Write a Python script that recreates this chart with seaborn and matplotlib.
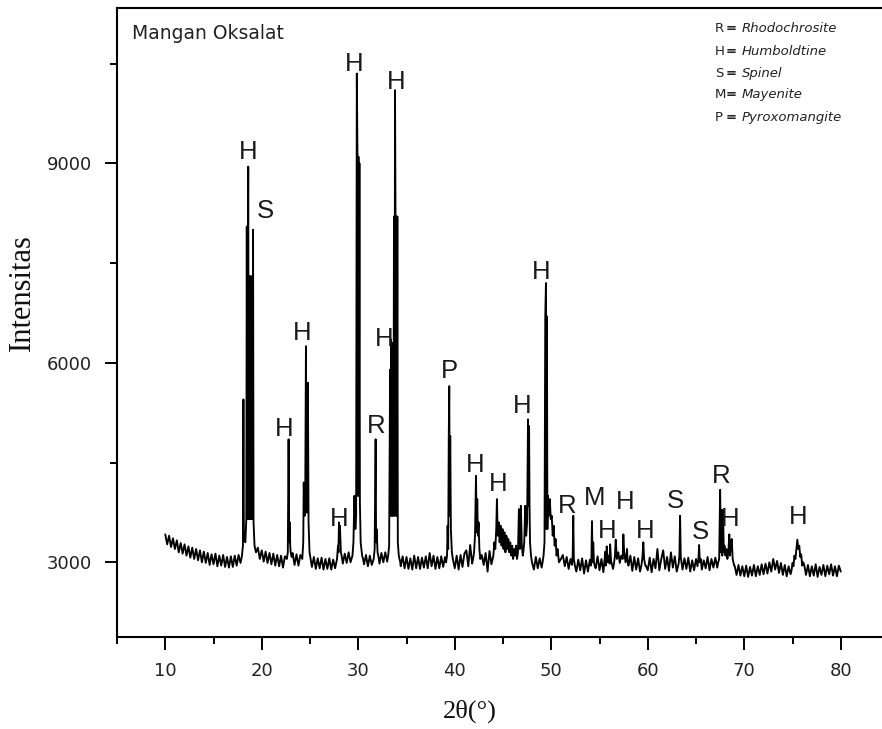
import numpy as np
import pandas as pd
import matplotlib
matplotlib.use("Agg")
import matplotlib.pyplot as plt
import seaborn as sns
from matplotlib.ticker import MultipleLocator

# ---------------- data ----------------
scan_start = 10.0
scan_step = 0.2
baseline_counts = [
    3420, 3270, 3400, 3230, 3360,
    3200, 3330, 3150, 3290, 3130,
    3270, 3100, 3240, 3070, 3220,
    3050, 3200, 3030, 3180, 3000,
    3160, 2990, 3140, 2960, 3120,
    2970, 3130, 2940, 3100, 2950,
    3110, 2930, 3080, 2920, 3090,
    2930, 3100, 2950, 3110, 2990,
    3100, 3150, 3150, 3150, 3150,
    3150, 3150, 3150, 3220, 3050,
    3180, 3010, 3160, 2990, 3140,
    2970, 3130, 2950, 3110, 2940,
    3100, 2920, 3090, 2950, 3100,
    3000, 3140, 2960, 3120, 2950,
    3110, 3100, 3100, 3100, 3100,
    3100, 2930, 3080, 2900, 3060,
    2910, 3070, 2890, 3050, 2900,
    3060, 2890, 3040, 2910, 3090,
    3100, 3100, 2980, 3130, 2990,
    3150, 3000, 3160, 3020, 3100,
    3100, 3100, 3100, 2970, 3110,
    2940, 3100, 2960, 3100, 3100,
    3100, 2980, 3140, 3000, 3150,
    3010, 3190, 3100, 3100, 3100,
    3100, 3100, 2940, 3090, 2910,
    3080, 2900, 3060, 2890, 3100,
    2910, 3080, 2900, 3070, 2920,
    3090, 2910, 3140, 2940, 3100,
    2900, 3080, 2910, 3090, 2930,
    3080, 3100, 3100, 3100, 3070,
    2910, 3100, 2890, 3110, 2930,
    3130, 3180, 2940, 3260, 2980,
    3100, 3100, 3100, 3100, 3110,
    2960, 3140, 2860, 3170, 2970,
    3100, 3100, 3100, 3100, 3100,
    3300, 3300, 3300, 3300, 3300,
    3200, 3200, 3200, 3200, 3200,
    3100, 3100, 3100, 3100, 3100,
    3000, 2890, 3080, 2910, 3060,
    2920, 3090, 3100, 3100, 3100,
    3500, 3500, 3500, 3500, 3500,
    3050, 3110, 2940, 3080, 2900,
    3050, 3100, 3100, 2860, 3040,
    2880, 3060, 2830, 3030, 2860,
    3040, 3100, 3100, 2910, 3090,
    2880, 3050, 2850, 3160, 2920,
    3000, 3000, 2900, 3000, 3000,
    3000, 3000, 3000, 3000, 3000,
    3000, 3100, 2870, 3080, 2890,
    3060, 2860, 3100, 3100, 2950,
    2880, 3070, 2850, 3050, 2910,
    3200, 2880, 3050, 3180, 2900,
    3080, 2870, 3150, 2920, 3090,
    2860, 3040, 3000, 2890, 3060,
    2900, 3070, 2860, 3030, 2880,
    3050, 3000, 3000, 2890, 3030,
    2910, 3080, 2880, 3050, 2920,
    3070, 2920, 3000, 3000, 3000,
    3000, 3000, 3000, 3000, 3000,
    2950, 2810, 2960, 2800, 2940,
    2790, 2950, 2780, 2930, 2800,
    2960, 2790, 2940, 2810, 2970,
    2820, 2980, 2830, 3000, 2860,
    3050, 2890, 3020, 2840, 2990,
    2810, 2960, 2790, 2940, 2820,
    3000, 3000, 3000, 3000, 3000,
    3000, 2970, 2810, 2960, 2790,
    2940, 2800, 2970, 2780, 2930,
    2810, 2960, 2790, 2950, 2820,
    2970, 2800, 2940, 2790, 2950,
    2860,
]

pk18_x = [17.95, 18.05, 18.1, 18.15, 18.3, 18.4, 18.45, 18.5, 18.55, 18.6, 18.65, 18.7, 18.75,
          18.8, 18.85, 18.9, 18.95, 19.0, 19.05, 19.1, 19.15, 19.25, 19.4]
pk18_y = [3100, 3250, 5450, 3350, 3300, 3650, 8050, 3650, 7300, 8950, 3650, 7300, 3650,
          7300, 3650, 7300, 3650, 7300, 3650, 8000, 3600, 3250, 3150]
pk22_x = [22.6, 22.7, 22.78, 22.85, 22.9, 22.95, 23.0, 23.1]
pk22_y = [3050, 3150, 4850, 3300, 3600, 3250, 3150, 3080]
pk24_x = [24.2, 24.3, 24.35, 24.45, 24.5, 24.58, 24.63, 24.68, 24.73, 24.78, 24.85, 24.95, 25.1]
pk24_y = [3050, 3300, 4200, 3700, 3800, 6250, 3750, 5700, 3750, 5700, 3600, 3150, 3020]
pk28_x = [27.8, 27.9, 27.95, 28.0, 28.05, 28.1, 28.2, 28.3]
pk28_y = [3050, 3250, 3150, 3600, 3300, 3550, 3150, 3080]
pk30_x = [29.4, 29.5, 29.6, 29.7, 29.78, 29.85, 29.92, 29.97, 30.02, 30.07, 30.12, 30.17, 30.25, 30.4, 30.5]
pk30_y = [3100, 3300, 4000, 3500, 3700, 10350, 9100, 4000, 9100, 4000, 9000, 3900, 3300, 3100, 3050]
pk32_x = [31.6, 31.7, 31.8, 31.85, 31.9, 32.0, 32.1]
pk32_y = [3050, 3200, 4850, 3300, 3500, 3150, 3080]
pk34_x = [33.1, 33.2, 33.3, 33.35, 33.4, 33.45, 33.5, 33.55, 33.6, 33.65, 33.7, 33.75, 33.81,
          33.86, 33.9, 33.95, 34.0, 34.05, 34.1, 34.2, 34.35]
pk34_y = [3100, 3250, 5900, 3700, 6350, 3700, 6300, 3700, 6300, 3700, 8200, 3700, 10100,
          8200, 3700, 8200, 3700, 8200, 3300, 3100, 3000]
pk39_x = [39.1, 39.2, 39.26, 39.32, 39.38, 39.43, 39.48, 39.53, 39.6, 39.7, 39.8]
pk39_y = [3000, 3100, 3550, 3200, 4900, 5650, 3700, 4900, 3500, 3150, 3050]
pk42_x = [41.9, 42.0, 42.1, 42.2, 42.27, 42.33, 42.4, 42.47, 42.55, 42.65]
pk42_y = [3050, 3150, 3400, 4300, 3450, 3950, 3400, 3600, 3200, 3050]
pk45_x = [44.0, 44.1, 44.2, 44.3, 44.37, 44.45, 44.55, 44.65, 44.75, 44.85, 44.95, 45.05, 45.15,
          45.25, 45.35, 45.45, 45.55, 45.65, 45.75, 45.85, 45.95, 46.05, 46.15, 46.25, 46.35,
          46.45, 46.55, 46.65, 46.75, 46.85, 46.95, 47.05]
pk45_y = [3100, 3300, 3200, 3500, 3950, 3400, 3600, 3300, 3550, 3250, 3500, 3200, 3450,
          3150, 3400, 3200, 3350, 3150, 3300, 3100, 3250, 3050, 3200, 3100, 3250,
          3050, 3150, 3800, 3200, 3850, 3250, 3100]
pk47_x = [47.1, 47.2, 47.3, 47.4, 47.5, 47.59, 47.65, 47.7, 47.75, 47.8, 47.9, 48.0]
pk47_y = [3150, 3300, 3850, 3400, 3600, 5150, 3850, 5050, 3850, 3300, 3100, 3000]
pk49_x = [49.1, 49.2, 49.3, 49.38, 49.45, 49.5, 49.55, 49.6, 49.65, 49.75, 49.85, 49.95, 50.05,
          50.15, 50.25, 50.35, 50.45, 50.55, 50.65, 50.8, 51.0]
pk49_y = [3000, 3100, 3300, 6700, 7200, 3500, 6700, 3500, 4000, 3700, 3950, 3650, 3700,
          3400, 3550, 3250, 3350, 3100, 3200, 3000, 3050]
pk52_x = [52.15, 52.22, 52.28, 52.34, 52.45]
pk52_y = [2960, 3100, 3700, 3050, 2950]
pk54_x = [54.1, 54.16, 54.22, 54.28, 54.35, 54.42, 54.5]
pk54_y = [2950, 3050, 3620, 3000, 3300, 3000, 2950]
pk56_x = [55.65, 55.75, 55.85, 55.95, 56.05, 56.1, 56.2]
pk56_y = [2950, 3240, 3000, 3100, 2980, 3270, 3020]
pk57_x = [56.5, 56.6, 56.68, 56.8, 56.95, 57.1, 57.25, 57.4, 57.47, 57.55, 57.7, 57.85, 57.92, 58.0]
pk57_y = [2980, 3100, 3340, 3050, 3150, 2990, 3100, 3050, 3420, 3150, 3000, 3200, 3000, 2950]
pk59_x = [59.35, 59.45, 59.54, 59.62, 59.75]
pk59_y = [2960, 3080, 3300, 3050, 2950]
pk63_x = [63.2, 63.28, 63.35, 63.42, 63.55]
pk63_y = [2980, 3100, 3700, 3080, 2950]
pk65_x = [65.15, 65.25, 65.32, 65.4, 65.5]
pk65_y = [2940, 3050, 3260, 3000, 3050]
pk67_x = [67.3, 67.4, 67.5, 67.58, 67.66, 67.72, 67.8, 67.88, 67.95, 68.05, 68.15, 68.25, 68.35,
          68.45, 68.52, 68.6, 68.7, 68.8, 68.95]
pk67_y = [3000, 3050, 4090, 3150, 3790, 3100, 3780, 3150, 3250, 3100, 3200, 3050, 3150,
          3420, 3100, 3250, 3350, 3050, 2950]
pk75_x = [74.9, 75.0, 75.1, 75.2, 75.3, 75.4, 75.5, 75.6, 75.7, 75.8, 75.9, 76.0, 76.1]
pk75_y = [2880, 2990, 2940, 3100, 3050, 3200, 3340, 3200, 3250, 3080, 3120, 2950, 3000]

label_text = ["H", "S", "H", "H", "H", "H", "H", "R", "H", "P", "H", "H", "H", "H",
              "R", "M", "H", "H", "H", "S", "S", "R", "H", "H"]
label_2theta = [18.61, 20.34, 24.24, 22.31, 29.56, 33.98, 32.67, 31.81, 28.01, 39.41, 42.10,
                44.51, 46.94, 48.94, 51.60, 54.46, 55.75, 57.64, 59.72, 62.82, 65.41, 67.66,
                68.52, 75.54]
label_counts = [9058, 8181, 6340, 4897, 10386, 10111, 6250, 4948, 3553, 5764, 4355,
                4069, 5248, 7253, 3744, 3869, 3368, 3794, 3368, 3820, 3343, 4196,
                3543, 3569]

legend_codes = ["R", "H", "S", "M", "P"]
legend_names = ["Rhodochrosite", "Humboldtine", "Spinel", "Mayenite", "Pyroxomangite"]

x_ticks = [10, 20, 30, 40, 50, 60, 70, 80]
y_ticks = [3000, 6000, 9000]

# ---------------- assemble trace ----------------
groups = [(pk18_x, pk18_y), (pk22_x, pk22_y), (pk24_x, pk24_y), (pk28_x, pk28_y),
          (pk30_x, pk30_y), (pk32_x, pk32_y), (pk34_x, pk34_y), (pk39_x, pk39_y),
          (pk42_x, pk42_y), (pk45_x, pk45_y), (pk47_x, pk47_y), (pk49_x, pk49_y),
          (pk52_x, pk52_y), (pk54_x, pk54_y), (pk56_x, pk56_y), (pk57_x, pk57_y),
          (pk59_x, pk59_y), (pk63_x, pk63_y), (pk65_x, pk65_y), (pk67_x, pk67_y),
          (pk75_x, pk75_y)]
base_x = np.round(scan_start + scan_step * np.arange(len(baseline_counts)), 2)
base_y = np.array(baseline_counts, dtype=float)
keep = np.ones(len(base_x), dtype=bool)
for gx, gy in groups:
    keep &= ~((base_x >= min(gx) - 1e-6) & (base_x <= max(gx) + 1e-6))
all_x = np.concatenate([base_x[keep]] + [np.array(g[0], float) for g in groups])
all_y = np.concatenate([base_y[keep]] + [np.array(g[1], float) for g in groups])
order = np.argsort(all_x, kind="stable")
df = pd.DataFrame({"two_theta": all_x[order], "intensity": all_y[order]})

# ---------------- figure ----------------
sns.set_style("ticks")
plt.rcParams["font.family"] = ["DejaVu Sans"]
W, H = 882, 729
fig = plt.figure(figsize=(W / 100, H / 100), dpi=100)
ax_left, ax_right, ax_top, ax_bottom = 117, 884, 8.3, 636.7
ax = fig.add_axes([ax_left / W, 1 - ax_bottom / H, (ax_right - ax_left) / W, (ax_bottom - ax_top) / H])

sns.lineplot(data=df, x="two_theta", y="intensity", ax=ax, color="black", linewidth=1.35,
             estimator=None, sort=False)

ax.set_xlim(5.0, 84.48)
ax.set_ylim(1881, 11331)
ax.set_xticks(x_ticks)
ax.set_yticks(y_ticks)
ax.xaxis.set_minor_locator(MultipleLocator(5))
ax.yaxis.set_minor_locator(MultipleLocator(1500))
for s in ax.spines.values():
    s.set_linewidth(1.5)
    s.set_color("black")
ax.tick_params(which="major", direction="out", length=9, width=1.4, color="black",
               labelsize=13, labelcolor="#222222", pad=9, top=False, right=False)
ax.tick_params(which="minor", direction="out", length=5, width=1.4, color="black",
               top=False, right=False)

ax.set_xlabel("2θ(°)", family=["Liberation Serif", "DejaVu Serif"], fontsize=19, color="#111111")
ax.set_ylabel("Intensitas", family=["Liberation Serif", "DejaVu Serif"], fontsize=22, color="#111111")
ax.xaxis.set_label_coords((470 - ax_left) / (ax_right - ax_left), (ax_bottom - 711) / (ax_bottom - ax_top))
ax.yaxis.set_label_coords((22 - ax_left) / (ax_right - ax_left), (ax_bottom - 292.5) / (ax_bottom - ax_top))
ax.xaxis.label.set_va("center")
ax.yaxis.label.set_va("center")
ax.yaxis.label.set_ha("center")

# peak labels
for t, lx, ly in zip(label_text, label_2theta, label_counts):
    ax.text(lx, ly, t, ha="center", va="baseline", fontsize=18.5,
            family=["Liberation Sans", "DejaVu Sans"], color="#1a1a1a")

# sample name
fig.text(131.7 / W, 1 - 39.3 / H, "Mangan Oksalat", ha="left", va="baseline",
         fontsize=13.5, color="#222222")

# phase key
key_base = [32.3, 55.0, 76.7, 98.3, 120.7]
for code, name, yb in zip(legend_codes, legend_names, key_base):
    fig.text(715 / W, 1 - yb / H, code, ha="left", va="baseline", fontsize=9.5, color="#222222")
    fig.text(731 / W, 1 - yb / H, "=", ha="center", va="baseline", fontsize=9.5,
             fontweight="bold", color="#222222")
    fig.text(742 / W, 1 - yb / H, name, ha="left", va="baseline", fontsize=9.5,
             style="italic", color="#222222")

fig.savefig("out.png", dpi=100)
